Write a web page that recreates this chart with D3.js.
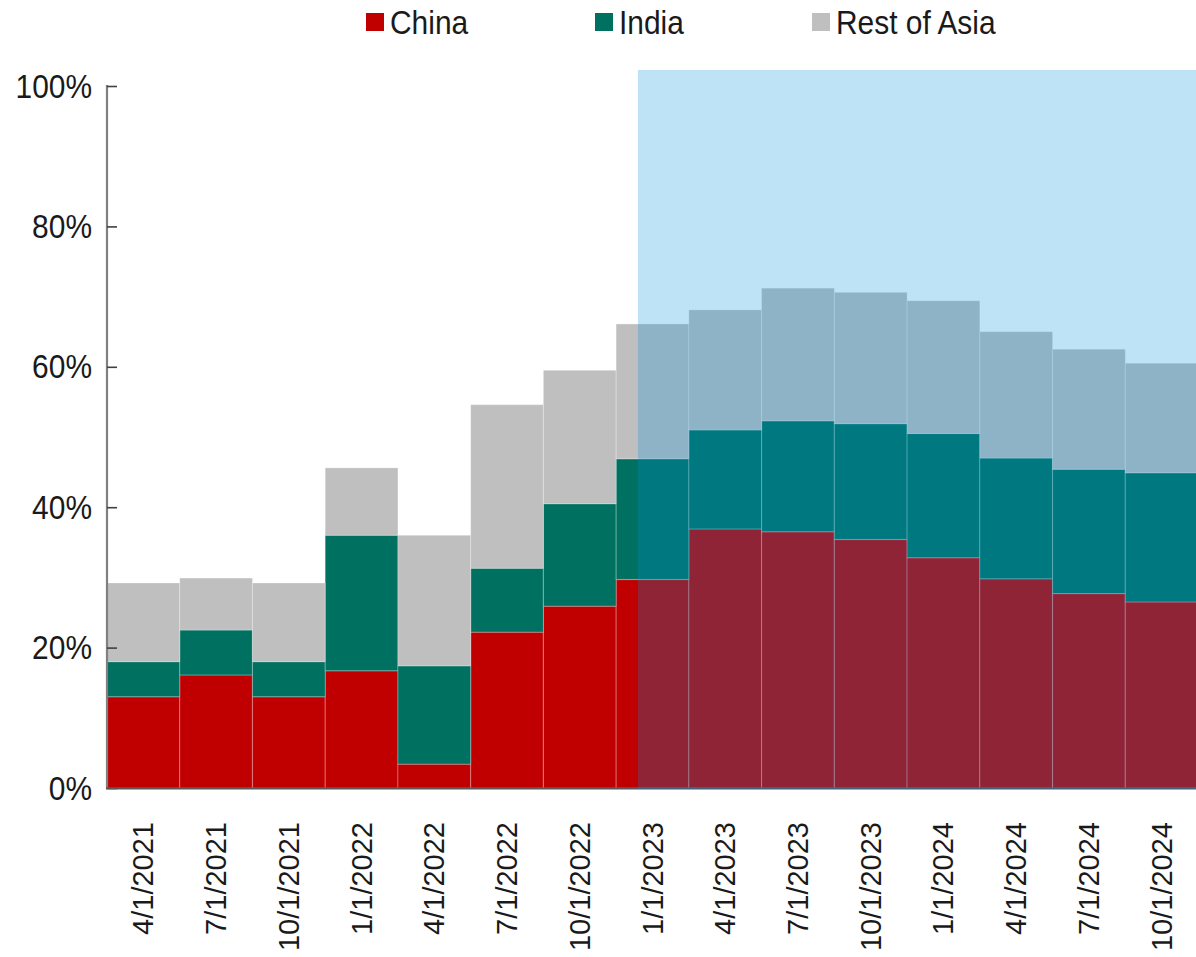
<!DOCTYPE html>
<html>
<head>
<meta charset="utf-8">
<script src="https://cdn.jsdelivr.net/npm/d3@7"></script>
<style>
  html, body { margin: 0; padding: 0; background: #fff; }
  svg { display: block; }
</style>
</head>
<body>
<svg id="chart" width="1196" height="957"></svg>
<script>
// ---- data ----
const categories = ["4/1/2021","7/1/2021","10/1/2021","1/1/2022","4/1/2022","7/1/2022","10/1/2022",
  "1/1/2023","4/1/2023","7/1/2023","10/1/2023","1/1/2024","4/1/2024","7/1/2024","10/1/2024"];
const seriesNames = ["China", "India", "Rest of Asia"];
const china      = [13.0, 16.1, 13.0, 16.7,  3.4, 22.2, 25.9, 29.7, 36.9, 36.5, 35.4, 32.8, 29.8, 27.7, 26.5];
const india      = [ 5.0,  6.4,  5.0, 19.3, 14.0,  9.1, 14.6, 17.2, 14.1, 15.8, 16.5, 17.7, 17.2, 17.7, 18.4];
const restOfAsia = [11.2,  7.4, 11.2,  9.6, 18.6, 23.3, 19.0, 19.2, 17.1, 18.9, 18.7, 18.9, 18.0, 17.1, 15.6];
const yTicks = [0, 20, 40, 60, 80, 100];
const shadeFromCategory = "1/1/2023";

(function () {
// ---- layout ----
const svg = d3.select("#chart");
const mLeft = 107, mRight = 1198, mTop = 86, mBottom = 788;
const colors = { "China": "#C00000", "India": "#007161", "Rest of Asia": "#BFBFBF" };
const narrow = 0.88;

const x = d3.scaleBand().domain(categories).range([mLeft, mRight]).padding(0);
const y = d3.scaleLinear().domain([0, 100]).range([mBottom, mTop]);

const rows = categories.map((c, i) => ({ cat: c, "China": china[i], "India": india[i], "Rest of Asia": restOfAsia[i] }));
const stacked = d3.stack().keys(seriesNames)(rows);

// bars
svg.append("g").selectAll("g").data(stacked).join("g")
  .attr("fill", d => colors[d.key])
  .selectAll("rect").data(d => d).join("rect")
  .attr("x", d => x(d.data.cat))
  .attr("width", x.bandwidth())
  .attr("y", d => y(d[1]))
  .attr("height", d => y(d[0]) - y(d[1]))
  .attr("stroke", "rgba(255,255,255,0.22)")
  .attr("stroke-width", 1.2);

// y axis
const yAxis = svg.append("g").attr("transform", `translate(${mLeft},0)`)
  .call(d3.axisRight(y).tickValues(yTicks).tickSize(10).tickFormat(() => ""));
yAxis.select(".domain").attr("stroke", "#808080").attr("stroke-width", 2.2).attr("d", `M0,${mTop - 1}V${mBottom}`);
yAxis.selectAll(".tick line").attr("stroke", "#404040").attr("stroke-width", 1.6);

svg.append("g").selectAll("text").data(yTicks).join("text")
  .attr("transform", d => `translate(92,${y(d)}) scale(${narrow},1)`)
  .attr("text-anchor", "end").attr("dominant-baseline", "central")
  .style("font-family", "'Liberation Sans',Arial,sans-serif")
  .style("font-size", "34px").attr("fill", "#1a1a1a")
  .text(d => d + "%");

// x axis line
svg.append("line").attr("x1", mLeft - 1).attr("x2", 1196).attr("y1", mBottom + 0.5).attr("y2", mBottom + 0.5)
  .attr("stroke", "#595959").attr("stroke-width", 2);

// x labels (rotated)
svg.append("g").selectAll("text").data(categories).join("text")
  .attr("transform", d => `translate(${x(d) + x.bandwidth() / 2},822) rotate(-90)`)
  .attr("text-anchor", "end").attr("dominant-baseline", "central")
  .style("font-family", "'Liberation Sans',Arial,sans-serif")
  .style("font-size", "29px").attr("fill", "#1a1a1a")
  .text(d => d);

// shaded forecast region
const shadeX = x(shadeFromCategory) + x.bandwidth() * 0.3;
svg.append("rect")
  .attr("x", shadeX).attr("y", y(100) - 16)
  .attr("width", 1196 - shadeX).attr("height", mBottom + 1 - (y(100) - 16))
  .attr("fill", "rgb(0,145,220)").attr("fill-opacity", 0.25);

// legend
const legendPos = [{ k: "China", x: 366 }, { k: "India", x: 595 }, { k: "Rest of Asia", x: 812 }];
const lg = svg.append("g").selectAll("g").data(legendPos).join("g")
  .attr("transform", d => `translate(${d.x},22)`);
lg.append("rect").attr("x", 0).attr("y", -9).attr("width", 18).attr("height", 18)
  .attr("fill", d => colors[d.k]);
lg.append("text").attr("transform", `translate(24,0) scale(${narrow},1)`).attr("dominant-baseline", "central")
  .style("font-family", "'Liberation Sans',Arial,sans-serif")
  .style("font-size", "34px").attr("fill", "#1a1a1a")
  .text(d => d.k);
})();
</script>
</body>
</html>
